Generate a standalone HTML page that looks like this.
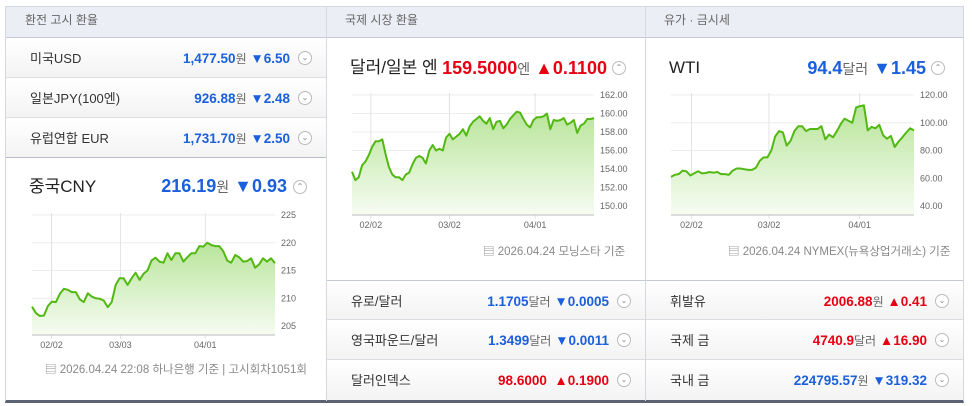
<!DOCTYPE html>
<html><head><meta charset="utf-8"><style>
*{box-sizing:border-box;margin:0;padding:0}
body{width:972px;height:406px;background:#fff;font-family:"Liberation Sans","Noto Sans CJK KR",sans-serif;position:relative;overflow:hidden;color:#333;line-height:16px}
.wrap{position:absolute;left:5px;top:6px;width:959px;height:397px;border:1px solid #d5d8e0;border-bottom:3px solid #5d6272}
.hdr{position:absolute;top:0;height:31px;background:#eceef5;border-bottom:1px solid #c6cad6;font-size:12px;color:#666;padding:0 0 0 19px;line-height:26px}
.vl{position:absolute;top:0;width:1px;background:#d5d8e0;height:394px}
.row{position:absolute;height:40px;background:linear-gradient(#fff,#f3f3f3);border-bottom:1px solid #dcdde2;font-size:13px}
.row .lb{position:absolute;left:24px;top:13px;color:#333;line-height:16px}
.row .vv{position:absolute;right:36px;top:13px;font-weight:bold;font-size:13.5px;white-space:nowrap;line-height:16px}
.u{font-weight:normal;color:#666;font-size:12px}
.b{color:#1a5fdc}.r{color:#e60012}
.btn{position:absolute;right:14px;width:14px;height:14px;border:1px solid #bbb;border-radius:50%;background:#fff;font-size:8px;color:#888;text-align:center;line-height:12px}
.big{position:absolute;font-size:17px;color:#222;line-height:20px}
.bigv{position:absolute;font-size:18px;font-weight:bold;white-space:nowrap;text-align:right;line-height:20px}
.foot{position:absolute;font-size:11.5px;color:#888;white-space:nowrap;line-height:14px}
svg text{font-family:"Liberation Sans",sans-serif;font-size:9px;fill:#666}
</style></head><body>
<div class="wrap">
<div class="hdr" style="left:0;width:320px">환전 고시 환율</div>
<div class="hdr" style="left:320px;width:319px">국제 시장 환율</div>
<div class="hdr" style="left:639px;width:318px">유가 · 금시세</div>
<div class="vl" style="left:320px"></div><div class="vl" style="left:639px"></div>

<div class="row" style="left:0;top:31px;width:320px"><span class="lb">미국USD</span><span class="vv b">1,477.50<span class="u">원</span> ▼6.50</span><span class="btn" style="top:13px">⌄</span></div>
<div class="row" style="left:0;top:71px;width:320px"><span class="lb">일본JPY(100엔)</span><span class="vv b">926.88<span class="u">원</span> ▼2.48</span><span class="btn" style="top:13px">⌄</span></div>
<div class="row" style="left:0;top:111px;width:320px;border-bottom:1px solid #b7bbc7"><span class="lb">유럽연합 EUR</span><span class="vv b">1,731.70<span class="u">원</span> ▼2.50</span><span class="btn" style="top:13px">⌄</span></div>

<div class="big" style="left:23px;top:170px">중국CNY</div>
<div class="bigv b" style="right:676px;top:169px">216.19<span class="u" style="font-size:14px">원</span> ▼0.93</div>
<div class="btn" style="left:287px;top:173px">⌃</div>

<div class="big" style="left:344px;top:51px">달러/일본 엔</div>
<div class="bigv r" style="right:356px;top:51px">159.5000<span class="u" style="font-size:14px">엔</span> ▲0.1100</div>
<div class="btn" style="left:606px;top:54px">⌃</div>

<div class="big" style="left:663px;top:51px">WTI</div>
<div class="bigv b" style="right:37px;top:51px">94.4<span class="u" style="font-size:14px">달러</span> ▼1.45</div>
<div class="btn" style="left:925px;top:54px">⌃</div>

<div class="foot" style="left:39px;top:356px">▤ 2026.04.24 22:08 하나은행 기준 | 고시회차1051회</div>
<div class="foot" style="left:477px;top:238px">▤ 2026.04.24 모닝스타 기준</div>
<div class="foot" style="left:722px;top:238px">▤ 2026.04.24 NYMEX(뉴욕상업거래소) 기준</div>

<div class="row" style="left:321px;top:273px;width:318px;border-top:1px solid #c6cad6"><span class="lb">유로/달러</span><span class="vv b">1.1705<span class="u">달러</span> ▼0.0005</span><span class="btn" style="top:13px">⌄</span></div>
<div class="row" style="left:321px;top:313px;width:318px"><span class="lb">영국파운드/달러</span><span class="vv b">1.3499<span class="u">달러</span> ▼0.0011</span><span class="btn" style="top:13px">⌄</span></div>
<div class="row" style="left:321px;top:353px;width:318px;border-bottom:none"><span class="lb">달러인덱스</span><span class="vv r">98.6000 &nbsp;▲0.1900</span><span class="btn" style="top:13px">⌄</span></div>
<div class="row" style="left:640px;top:273px;width:317px;border-top:1px solid #c6cad6"><span class="lb">휘발유</span><span class="vv r">2006.88<span class="u">원</span> ▲0.41</span><span class="btn" style="top:13px">⌄</span></div>
<div class="row" style="left:640px;top:313px;width:317px"><span class="lb">국제 금</span><span class="vv r">4740.9<span class="u">달러</span> ▲16.90</span><span class="btn" style="top:13px">⌄</span></div>
<div class="row" style="left:640px;top:353px;width:317px;border-bottom:none"><span class="lb">국내 금</span><span class="vv b">224795.57<span class="u">원</span> ▼319.32</span><span class="btn" style="top:13px">⌄</span></div>
</div>

<svg id="charts" width="972" height="406" style="position:absolute;left:0;top:0;pointer-events:none">
<defs><linearGradient id="g" x1="0" y1="0" x2="0" y2="1"><stop offset="0" stop-color="#b8e59a"/><stop offset="1" stop-color="#f7fcf3"/></linearGradient></defs>
</svg>
<script>
const cnyValues=[208.5,207.3,206.8,206.9,208.6,209.4,209.3,210.8,211.7,211.5,211.1,211.1,209.8,209.3,210.9,210.3,210.0,209.9,209.6,208.4,209.3,212.4,213.6,213.6,212.4,213.6,214.6,213.3,214.4,215.0,216.8,217.3,216.6,216.4,218.1,216.9,218.1,218.1,216.6,217.4,218.1,218.1,219.4,219.3,220.0,219.6,219.4,219.4,218.5,216.8,216.4,217.8,217.4,216.6,216.7,217.2,215.5,216.1,217.2,216.6,217.2,216.3];
const cnyTicks=[225,220,215,210,205];
const cnyDateLabels=["02/02","03/03","04/01"];
const cnyDateIdx=[4.9,22.2,43.5];

const jpyValues=[153.7,152.8,153.1,154.4,154.8,155.5,156.4,157.0,157.0,157.2,155.6,154.2,153.4,153.1,153.1,152.8,153.4,153.6,154.5,155.2,155.4,155.2,154.6,156.0,156.6,156.0,156.2,156.0,157.4,157.8,157.2,157.5,157.8,158.3,157.6,158.6,159.1,159.4,159.7,159.2,158.9,159.5,158.3,159.1,159.2,158.4,158.8,159.4,159.8,160.2,160.1,159.4,158.8,158.5,159.3,159.6,159.6,159.7,160.0,158.3,159.3,159.2,159.3,159.5,158.8,159.0,159.3,157.9,158.7,158.9,159.4,159.4,159.5];
const jpyTicks=[162,160,158,156,154,152,150];
const jpyDateLabels=["02/02","03/02","04/01"];
const jpyDateIdx=[5.6,29,54.5];

const wtiValues=[61,62.5,63,65.5,65,62,63.5,65,63.5,63.8,64.5,64,64.5,63,63,62.5,65.5,67,67,66.5,66,66,67.5,72.5,75,75,80,90,94,93,83.5,87,94,97.5,97.5,94,95.5,95.5,95.5,97.5,88,91.5,89.5,94,99,103,101.5,100,111,112,112.5,94.5,97,96,98.5,91,88.5,90.5,82.5,86.5,89.5,93,96,94.5];
const wtiTicks=[120,100,80,60,40];
const wtiDateLabels=["02/02","03/02","04/01"];
const wtiDateIdx=[5.3,25.4,48.9];

const svg=document.getElementById('charts');
const NS='http://www.w3.org/2000/svg';
function mk(t,a){const e=document.createElementNS(NS,t);for(const k in a)e.setAttribute(k,a[k]);svg.appendChild(e);return e;}
function chart(id,vals,ticks,dl,di,L,R,T,B,bottom,dec){
  const vmax=ticks[0],vmin=ticks[ticks.length-1];
  const y=v=>T+(vmax-v)/(vmax-vmin)*(B-T);
  const x=i=>L+i/(vals.length-1)*(R-L);
  ticks.forEach(t=>{
    const l=mk('line',{x1:L,x2:R,y1:y(t),y2:y(t),stroke:'#ececec'});
    
    
    const tx=mk('text',{x:R+6,y:y(t)+3});
    tx.textContent=dec?t.toFixed(2):t;
    
    
  });
  di.forEach((d,k)=>{
    const l=mk('line',{x1:x(d),x2:x(d),y1:T-2,y2:bottom+4,stroke:'#e2e2e2'});
    
    
    const tx=mk('text',{x:x(d),y:bottom+13,'text-anchor':'middle'});
    tx.textContent=dl[k];
    
    
  });
  let p=vals.map((v,i)=>(i?'L':'M')+x(i).toFixed(1)+','+y(v).toFixed(1)).join('');
  const a=mk('path',{d:p+'L'+R+','+bottom+'L'+L+','+bottom+'Z',fill:'url(#g)'});
  
  
  const ln=mk('path',{d:p,fill:'none',stroke:'#52b812','stroke-width':2,'stroke-linejoin':'round'});
  
  
  const ax=mk('line',{x1:L,x2:R,y1:bottom,y2:bottom,stroke:'#bbb'});
  
  
}
chart('cny',cnyValues,cnyTicks,cnyDateLabels,cnyDateIdx,32,275,215,326,335,false);
chart('jpy',jpyValues,jpyTicks,jpyDateLabels,jpyDateIdx,352,594,95,206,215,true);
chart('wti',wtiValues,wtiTicks,wtiDateLabels,wtiDateIdx,671,914,95,206,215,true);
</script>
</body></html>
